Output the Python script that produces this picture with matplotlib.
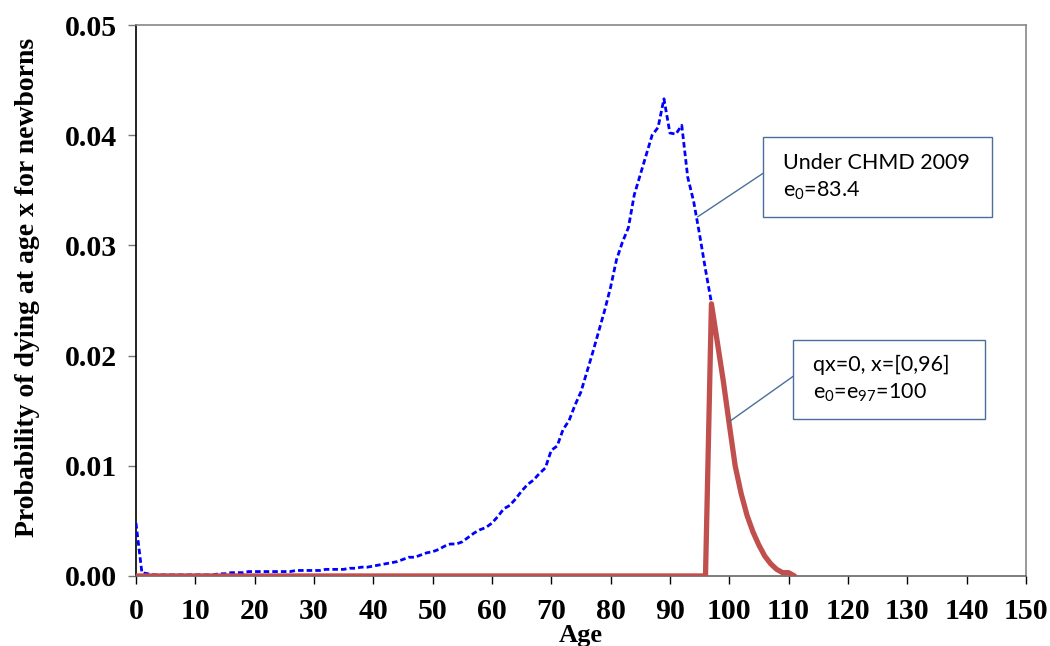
import matplotlib
matplotlib.use("Agg")
import matplotlib.pyplot as plt
from matplotlib.patches import Rectangle
import numpy as np

# Probability of dying at age x (d_x) for newborns
chmd_ages = list(range(0, 98))
chmd_dx = [
    0.0048, 0.0003, 0.0002, 0.0001, 0.0001, 0.0001, 0.0001, 0.0001, 0.0001, 0.0001,
    0.0001, 0.0001, 0.0001, 0.0001, 0.0002, 0.0002, 0.0003, 0.0003, 0.0003, 0.0004,
    0.0004, 0.0004, 0.0004, 0.0004, 0.0004, 0.0004, 0.0004, 0.0005, 0.0005, 0.0005,
    0.0005, 0.0005, 0.0006, 0.0006, 0.0006, 0.0006, 0.0007, 0.0007, 0.0008, 0.0008,
    0.0009, 0.0010, 0.0011, 0.0012, 0.0013, 0.0015, 0.0017, 0.0017, 0.0019, 0.0021,
    0.0022, 0.0024, 0.0027, 0.0029, 0.0029, 0.0031, 0.0035, 0.0039, 0.0042, 0.0044,
    0.0048, 0.0054, 0.0061, 0.0064, 0.0070, 0.0077, 0.0083, 0.0087, 0.0093, 0.0098,
    0.0114, 0.0118, 0.0133, 0.0141, 0.0155, 0.0167, 0.0185, 0.0203, 0.0222, 0.0241,
    0.0262, 0.0287, 0.0303, 0.0316, 0.0346, 0.0364, 0.0382, 0.0400, 0.0407, 0.0433,
    0.0402, 0.0401, 0.0409, 0.0362, 0.0340, 0.0310, 0.0278, 0.0248,
]

zero_ages = list(range(0, 112))
zero_dx = [0.0] * 97 + [
    0.0247, 0.0212, 0.0177, 0.0138, 0.0100, 0.0075, 0.0055, 0.0040,
    0.0028, 0.0018, 0.0011, 0.0006, 0.0003, 0.0003, 0.0000,
]

x_ticks = list(range(0, 151, 10))
y_ticks = [0.0, 0.01, 0.02, 0.03, 0.04, 0.05]

serif = "Liberation Serif"
sans = ["Lato", "DejaVu Sans"]
box_color = "#4a6f9c"

plt.rcParams["mathtext.fontset"] = "custom"
plt.rcParams["mathtext.rm"] = "Lato"
plt.rcParams["mathtext.it"] = "Lato"

fig = plt.figure(figsize=(10.5, 6.46), dpi=100)
ax = fig.add_axes([0.1295, 0.1084, 0.8475, 0.8529])

ax.plot(chmd_ages, chmd_dx, color="#0000ff", linewidth=2.0, linestyle=(0, (2.0, 1.1)), zorder=3)
ax.plot(zero_ages, zero_dx, color="#c0504d", linewidth=3.8, solid_capstyle="round",
        solid_joinstyle="round", zorder=4)

ax.set_xlim(0, 150)
ax.set_ylim(0, 0.05)
ax.set_xticks(x_ticks)
ax.set_yticks(y_ticks)
ax.set_yticklabels([f"{v:.2f}" for v in y_ticks])
for lbl in ax.get_xticklabels() + ax.get_yticklabels():
    lbl.set_fontfamily(serif)
    lbl.set_fontweight("bold")
    lbl.set_fontsize(21.5)
ax.tick_params(axis="x", direction="out", length=6, width=1, color="black", pad=10)
ax.tick_params(axis="y", direction="out", length=6, width=1, color="#777777", pad=8)

ax.spines["left"].set_color("black")
ax.spines["bottom"].set_color("#666666")
ax.spines["top"].set_color("#888888")
ax.spines["right"].set_color("#888888")
for s in ax.spines.values():
    s.set_linewidth(1.2)

ax.set_xlabel("Age", fontfamily=serif, fontweight="bold", fontsize=19)
ax.xaxis.set_label_coords(0.5, -0.088)
ax.set_ylabel("Probability of dying at age x for newborns", fontfamily=serif,
              fontweight="bold", fontsize=20)
ax.yaxis.set_label_coords(-0.108, 0.524)

# callout 1
ax.add_patch(Rectangle((105.7, 0.0326), 38.6, 0.0072, facecolor="white",
                       edgecolor=box_color, linewidth=1.0, clip_on=False, zorder=5))
ax.plot([94.7, 105.7], [0.0326, 0.03654], color=box_color, linewidth=1.0, zorder=5)
ax.text(109.1, 0.0362, "Under CHMD 2009\ne$_0$=83.4", fontfamily=sans, fontsize=15.5,
        va="center", ha="left", linespacing=1.4, zorder=6)

# callout 2
ax.add_patch(Rectangle((110.7, 0.01425), 32.4, 0.00717, facecolor="white",
                       edgecolor=box_color, linewidth=1.0, clip_on=False, zorder=5))
ax.plot([100.0, 110.7], [0.0140, 0.01809], color=box_color, linewidth=1.0, zorder=5)
ax.text(114.1, 0.01783, "qx=0, x=[0,96]\ne$_0$=e$_{97}$=100", fontfamily=sans, fontsize=15.5,
        va="center", ha="left", linespacing=1.4, zorder=6)

fig.savefig("out.png", dpi=100)
